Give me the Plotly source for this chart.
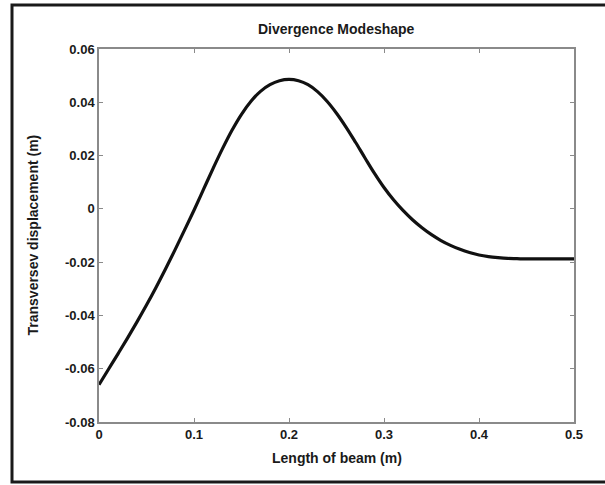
import plotly.graph_objects as go

# Beam length positions (m) and transverse displacement of the divergence mode (m)
beam_x = [0.00, 0.01, 0.02, 0.03, 0.04, 0.05, 0.06, 0.07, 0.08, 0.09,
          0.10, 0.11, 0.12, 0.13, 0.14, 0.15, 0.16, 0.17, 0.18, 0.19,
          0.20, 0.21, 0.22, 0.23, 0.24, 0.25, 0.26, 0.27, 0.28, 0.29,
          0.30, 0.31, 0.32, 0.33, 0.34, 0.35, 0.36, 0.37, 0.38, 0.39,
          0.40, 0.41, 0.42, 0.43, 0.44, 0.45, 0.46, 0.48, 0.50]
displacement = [-0.0660, -0.0602, -0.0544, -0.0485, -0.0424, -0.0361, -0.0295, -0.0226, -0.0154, -0.0080,
                -0.0005, 0.0073, 0.0151, 0.0226, 0.0295, 0.0355, 0.0404, 0.0441, 0.0466, 0.0481,
                0.0486, 0.0481, 0.0466, 0.0440, 0.0404, 0.0359, 0.0307, 0.0250, 0.0191, 0.0133,
                0.0080, 0.0034, -0.0006, -0.0041, -0.0071, -0.0097, -0.0119, -0.0137, -0.0152, -0.0164,
                -0.0173, -0.0179, -0.0183, -0.0186, -0.0187, -0.0188, -0.0188, -0.0188, -0.0188]

x_ticks = [0, 0.1, 0.2, 0.3, 0.4, 0.5]
x_tick_text = ["0", "0.1", "0.2", "0.3", "0.4", "0.5"]
y_ticks = [0.06, 0.04, 0.02, 0, -0.02, -0.04, -0.06, -0.08]
y_tick_text = ["0.06", "0.04", "0.02", "0", "-0.02", "-0.04", "-0.06", "-0.08"]

title_text = "Divergence Modeshape"
x_label = "Length of beam (m)"
y_label = "Transversev displacement (m)"

W, H = 605, 485
L, R, T, B = 99, 31, 49, 63
PW, PH = W - L - R, H - T - B


def px_x(p):
    return (p - L) / PW


def px_y(p):
    return (H - B - p) / PH


FONT = "Liberation Sans, Arial, sans-serif"
TEXT = "#1a1a1a"

fig = go.Figure()
fig.add_trace(go.Scatter(
    x=beam_x, y=displacement, mode="lines",
    line=dict(color="#111111", width=3.2, shape="spline", smoothing=1.0),
    hoverinfo="skip", showlegend=False,
))

axis_common = dict(
    showgrid=False, zeroline=False, showline=True, mirror="ticks",
    linecolor="#8a8a8a", linewidth=1.5, ticks="inside", ticklen=4,
    tickcolor="#8a8a8a", tickwidth=1,
    tickfont=dict(family=FONT, size=13, color=TEXT, weight="bold"),
)

fig.update_xaxes(range=[0, 0.5], tickvals=x_ticks, ticktext=x_tick_text, **axis_common)
fig.update_yaxes(range=[-0.08, 0.06], tickvals=y_ticks, ticktext=y_tick_text, **axis_common)

label_font = dict(family=FONT, size=14, color=TEXT, weight="bold")

fig.update_layout(
    width=W, height=H,
    margin=dict(l=L, r=R, t=T, b=B),
    paper_bgcolor="white", plot_bgcolor="white",
    annotations=[
        dict(text=title_text, xref="paper", yref="paper", x=0.5, y=px_y(29),
             xanchor="center", yanchor="middle", showarrow=False, font=label_font),
        dict(text=x_label, xref="paper", yref="paper", x=0.5, y=px_y(458),
             xanchor="center", yanchor="middle", showarrow=False, font=label_font),
        dict(text=y_label, xref="paper", yref="paper", x=px_x(32), y=0.5,
             xanchor="center", yanchor="middle", textangle=-90, showarrow=False,
             font=label_font),
    ],
    shapes=[
        dict(type="rect", xref="paper", yref="paper",
             x0=px_x(12), x1=px_x(640), y0=px_y(482), y1=px_y(5),
             line=dict(color=TEXT, width=3), layer="above"),
    ],
)

fig.write_html("out.html")
